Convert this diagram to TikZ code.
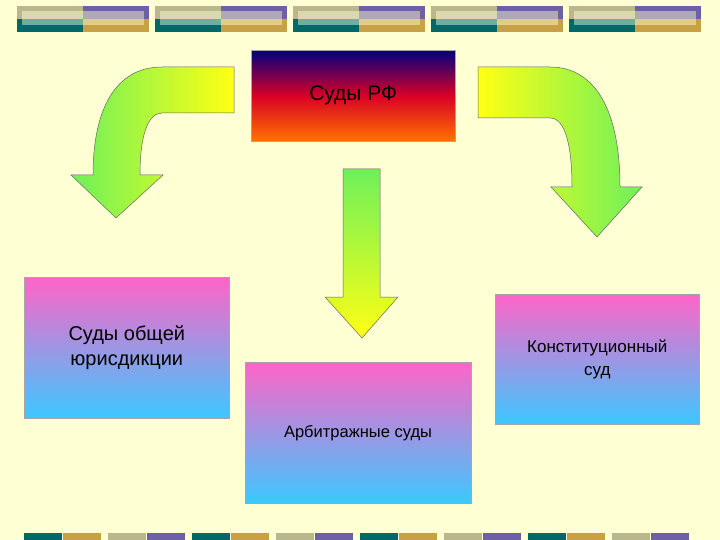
\documentclass[tikz,border=0pt]{standalone}
\usepackage{fontspec}
\setmainfont{Liberation Sans}
\definecolor{bg}{RGB}{255,255,212}
\definecolor{khaki}{RGB}{186,183,140}
\definecolor{khakil}{RGB}{218,216,175}
\definecolor{teal}{RGB}{0,104,104}
\definecolor{teall}{RGB}{110,175,160}
\definecolor{purp}{RGB}{110,96,165}
\definecolor{purpl}{RGB}{175,170,175}
\definecolor{gold}{RGB}{200,160,70}
\definecolor{goldl}{RGB}{225,205,135}
\definecolor{gr}{RGB}{110,240,90}
\definecolor{yl}{RGB}{255,255,20}
\definecolor{pinkc}{RGB}{255,100,200}
\definecolor{bluec}{RGB}{60,200,255}
\tikzset{
  box/.style={draw=gray!70, line width=0.6pt, top color=pinkc, bottom color=bluec, inner sep=0pt, align=center},
  arr/.style={draw=gray!80!black, line width=0.5pt},
}
\begin{document}
\begin{tikzpicture}[x=1pt,y=-1pt]
\fill[bg] (0,0) rectangle (720,540);
\useasboundingbox (0,0) rectangle (720,540);
% top bars
\foreach \s in {17,155,293,431,569}{
  \fill[khaki] (\s,6) rectangle ++(66,13);
  \fill[khakil] (\s+5,11) rectangle ++(61,8);
  \fill[teal] (\s,19) rectangle ++(66,13);
  \fill[teall] (\s+5,19) rectangle ++(61,6);
  \fill[purp] (\s+66,6) rectangle ++(66,13);
  \fill[purpl] (\s+66,11) rectangle ++(61,8);
  \fill[gold] (\s+66,19) rectangle ++(66,13);
  \fill[goldl] (\s+66,19) rectangle ++(61,6);
}
% bottom bars
\foreach \s [count=\i] in {24,108,192,276,360,444,528,612}{
  \ifodd\i
    \fill[teal] (\s,533) rectangle ++(38,7);
    \fill[gold] (\s+39,533) rectangle ++(38,7);
  \else
    \fill[khaki] (\s,533) rectangle ++(38,7);
    \fill[purp] (\s+39,533) rectangle ++(38,7);
  \fi
}
% top box
\node[draw=gray!70, minimum width=204pt, minimum height=91pt, anchor=north west, inner sep=0pt,
  shading=axis, shading angle=0, font=\fontsize{21}{24}\selectfont,
  top color=blue!50!black, bottom color=orange!90!red, middle color=purple!60!red] (rf) at (251,50) {Суды РФ};
% boxes
\node[box, minimum width=205pt, minimum height=141pt, anchor=north west, font=\fontsize{20}{25}\selectfont] (ob) at (24,277) {Суды общей\\юрисдикции};
\node[box, minimum width=226pt, minimum height=141pt, anchor=north west, font=\fontsize{16.5}{20}\selectfont] (ar) at (245,362) {};
\node[font=\fontsize{16.5}{20}\selectfont] (art) at (358,433) {Арбитражные суды};
\node[box, minimum width=204pt, minimum height=130pt, anchor=north west, font=\fontsize{17}{23}\selectfont] (ks) at (495,294) {Конституционный\\суд};
% left arrow
\draw[arr, left color=gr, right color=yl]
  (234,67) -- (162,67) .. controls (115,67) and (93,110) .. (93,175) -- (71,175) -- (116,218) -- (163,175) -- (140,175)
  .. controls (140,135) and (148,113) .. (162,113) -- (234,113) -- cycle;
% right arrow
\draw[arr, left color=yl, right color=gr]
  (478,67) -- (550,67) .. controls (595,67) and (620,110) .. (620,187) -- (642,187) -- (597,237) -- (551,187) -- (572,187)
  .. controls (572,145) and (565,118) .. (550,118) -- (478,118) -- cycle;
% center arrow
\draw[arr, top color=gr, bottom color=yl]
  (343,169) -- (380,169) -- (380,297) -- (398,297) -- (362,338) -- (325,297) -- (343,297) -- cycle;
\end{tikzpicture}
\end{document}
